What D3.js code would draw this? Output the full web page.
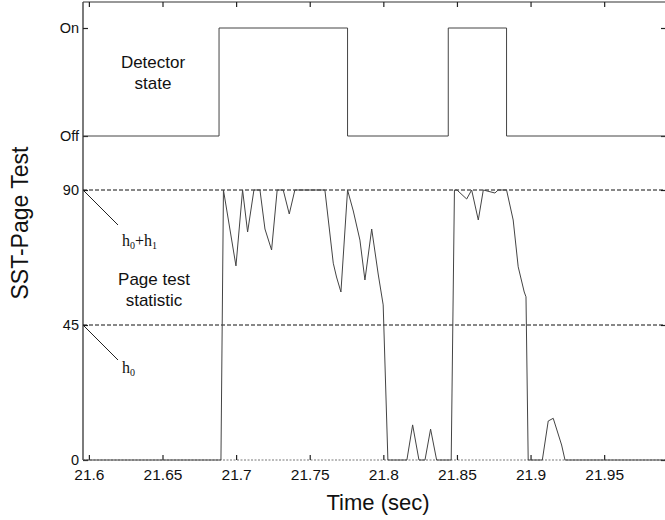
<!DOCTYPE html>
<html>
<head>
<meta charset="utf-8">
<script src="https://cdn.jsdelivr.net/npm/d3@7"></script>
<style>
  html, body { margin: 0; padding: 0; background: #fff; }
  svg { display: block; }
</style>
</head>
<body>
<svg id="chart" width="665" height="520"></svg>
<script>
// ---- data ----
const xTicks = [21.6, 21.65, 21.7, 21.75, 21.8, 21.85, 21.9, 21.95];
const xTickLabels = ["21.6", "21.65", "21.7", "21.75", "21.8", "21.85", "21.9", "21.95"];
const yTicks = [0, 45, 90, 108, 144];
const yTickLabels = ["0", "45", "90", "Off", "On"];
const thresholds = [90, 45];

// detector state (step after)
const detTimes  = [21.596, 21.6884, 21.7757, 21.8441, 21.8837, 21.992];
const detStates = ["Off", "On", "Off", "On", "Off", "Off"];

// page test statistic
const statTimes = [21.596, 21.6897, 21.6914, 21.6999, 21.7044, 21.7078, 21.7121, 21.7162, 21.7196,
  21.7241, 21.7279, 21.7320, 21.7361, 21.7399, 21.7603, 21.7660, 21.7682, 21.7712, 21.7757,
  21.7796, 21.7841, 21.7875, 21.7921, 21.7965, 21.7999, 21.8031, 21.8160, 21.8199, 21.8242,
  21.8283, 21.8321, 21.8362, 21.8461, 21.8483, 21.8500, 21.8566, 21.8600, 21.8645, 21.8679,
  21.8758, 21.8780, 21.8837, 21.8882, 21.8916, 21.8957, 21.8969, 21.8984, 21.9080, 21.9120,
  21.9154, 21.9211, 21.9234, 21.992];
const statValues = [0, 0, 90, 64.7, 90, 76, 90, 90, 77,
  70, 90, 90, 82, 90, 90, 65.6, 61, 56, 90,
  83, 73.3, 60, 77, 62, 51.7, 0, 0, 11.7, 0,
  0, 10.3, 0, 0, 90, 90, 87, 90, 80, 90,
  89, 90, 90, 80, 64.4, 56, 54.4, 0, 0, 13,
  13.9, 5, 0, 0];

// ---- layout ----
const svg = d3.select("#chart");
const mLeft = 83, mRight = 666, mTop = 1, mBottom = 460;
const x = d3.scaleLinear().domain([21.596, 21.992]).range([mLeft, mRight]);
const y = d3.scaleLinear().domain([0, 153]).range([mBottom, mTop]);
const stateLevel = { Off: 108, On: 144 };

const lineColor = "#444";

// frame: top border, left axis line, dotted bottom axis
svg.append("line").attr("x1", mLeft).attr("x2", mRight).attr("y1", y(153) + 1).attr("y2", y(153) + 1)
  .attr("stroke", "#333").attr("stroke-width", 1.2);
svg.append("line").attr("x1", mLeft).attr("x2", mLeft).attr("y1", y(153) + 1).attr("y2", mBottom)
  .attr("stroke", "#444").attr("stroke-width", 1.4);
svg.append("line").attr("x1", mLeft).attr("x2", mRight).attr("y1", mBottom).attr("y2", mBottom)
  .attr("stroke", "#777").attr("stroke-width", 1).attr("stroke-dasharray", "2,1.5");

// axes (ticks inward)
const font = "Liberation Sans, Arial, Helvetica, sans-serif";
const xAxis = svg.append("g").attr("transform", `translate(0,${mBottom})`)
  .call(d3.axisBottom(x).tickValues(xTicks).tickFormat((d, i) => xTickLabels[i])
    .tickSizeInner(-5).tickSizeOuter(0).tickPadding(9));
const xAxisTop = svg.append("g").attr("transform", `translate(0,${y(153) + 1})`)
  .call(d3.axisTop(x).tickValues(xTicks).tickFormat("").tickSizeInner(-5).tickSizeOuter(0));
const yAxis = svg.append("g").attr("transform", `translate(${mLeft},0)`)
  .call(d3.axisLeft(y).tickValues(yTicks).tickFormat((d, i) => yTickLabels[i])
    .tickSizeInner(-5).tickSizeOuter(0).tickPadding(4));
const yAxisRight = svg.append("g").attr("transform", `translate(${mRight},0)`)
  .call(d3.axisRight(y).tickValues(yTicks).tickFormat("").tickSizeInner(-5).tickSizeOuter(0));
[xAxis, xAxisTop, yAxis, yAxisRight].forEach(g => {
  g.select(".domain").remove();
  g.selectAll(".tick line").attr("stroke", "#222").attr("stroke-width", 1.2);
  g.selectAll("text").attr("font-family", font).attr("font-size", 14.5).attr("fill", "#111");
});
xAxis.selectAll("text").attr("font-size", 15.5);

// threshold dashed lines
svg.selectAll(".thr").data(thresholds).enter().append("line")
  .attr("x1", mLeft).attr("x2", mRight)
  .attr("y1", d => y(d)).attr("y2", d => y(d))
  .attr("stroke", "#111").attr("stroke-width", 1).attr("stroke-dasharray", "4,2");

// detector state step line
const detData = detTimes.map((t, i) => ({ t, v: stateLevel[detStates[i]] }));
svg.append("path").datum(detData)
  .attr("d", d3.line().x(d => x(d.t)).y(d => y(d.v)).curve(d3.curveStepAfter))
  .attr("fill", "none").attr("stroke", lineColor).attr("stroke-width", 1);

// page test statistic
const statData = statTimes.map((t, i) => ({ t, v: statValues[i] }));
svg.append("path").datum(statData)
  .attr("d", d3.line().x(d => x(d.t)).y(d => y(d.v)))
  .attr("fill", "none").attr("stroke", lineColor).attr("stroke-width", 1);

// annotation leaders and labels for thresholds
thresholds.forEach(v => {
  svg.append("line").attr("x1", mLeft).attr("y1", y(v))
    .attr("x2", mLeft + 35).attr("y2", y(v) + 35)
    .attr("stroke", "#222").attr("stroke-width", 1);
});
const serif = "Liberation Serif, Times New Roman, serif";
function hLabel(tx, ty, parts) {
  const t = svg.append("text").attr("x", tx).attr("y", ty)
    .attr("font-family", serif).attr("font-size", 16).attr("fill", "#111");
  parts.forEach(p => {
    const s = t.append("tspan").text(p.text);
    if (p.sub) s.attr("font-size", 10).attr("dy", 3);
    else if (p.after) s.attr("dy", -3);
  });
}
hLabel(122, y(thresholds[0]) + 56, [{ text: "h" }, { text: "0", sub: true }, { text: "+h", after: true }, { text: "1", sub: true }]);
hLabel(122, y(thresholds[1]) + 48, [{ text: "h" }, { text: "0", sub: true }]);

// in-plot text labels
function centerText(cx, cy, lines) {
  const t = svg.append("text").attr("x", cx).attr("y", cy).attr("text-anchor", "middle")
    .attr("font-family", font).attr("font-size", 17).attr("fill", "#111");
  lines.forEach((l, i) => t.append("tspan").attr("x", cx).attr("dy", i === 0 ? 0 : 21.5).text(l));
}
centerText(153, 67.5, ["Detector", "state"]);
centerText(154, 284.5, ["Page test", "statistic"]);

// axis titles
svg.append("text").attr("x", 378).attr("y", 510).attr("text-anchor", "middle")
  .attr("font-family", font).attr("font-size", 22).attr("fill", "#111").text("Time (sec)");
svg.append("text").attr("transform", "translate(28,223) rotate(-90)").attr("text-anchor", "middle")
  .attr("font-family", font).attr("font-size", 23).attr("fill", "#111").text("SST-Page Test");
</script>
</body>
</html>
